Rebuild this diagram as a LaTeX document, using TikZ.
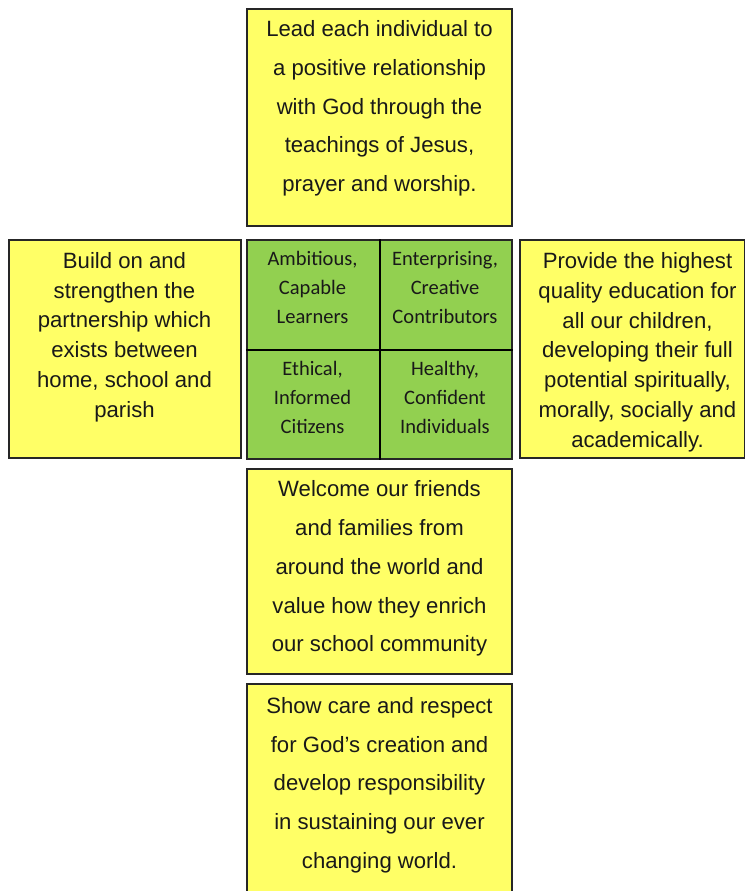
\documentclass[tikz,border=0pt]{standalone}
\usepackage{fontspec}
\setmainfont{Liberation Sans}
\newfontfamily\carlito{Carlito}
\definecolor{AimYellow}{HTML}{FFFF66}
\definecolor{ValueGreen}{HTML}{92D050}

\begin{document}
\begin{tikzpicture}[x=0.75pt, y=-0.75pt,
  aim/.style={rectangle, draw=black!85, fill=AimYellow, line width=1.1pt, inner sep=0pt},
  val/.style={rectangle, draw=black!85, fill=ValueGreen, line width=1.1pt, inner sep=0pt},
  txt/.style={align=center, inner sep=0pt, anchor=base, text=black!90, font=\fontsize{16.6pt}{29.06pt}\selectfont},
  tight/.style={txt, font=\fontsize{16.6pt}{22.3pt}\selectfont},
  vtxt/.style={txt, font=\carlito\fontsize{15.4pt}{21.75pt}\selectfont}]
  \clip (0,0) rectangle (745,891);
  \node[aim, minimum width=198.75pt, minimum height=162.75pt] (god)     at (379.5,117.5) {};
  \node[aim, minimum width=174pt,    minimum height=163.5pt]  (parish)  at (125,349)     {};
  \node[val, minimum width=198.75pt, minimum height=164.25pt] (values)  at (379.5,349.5) {};
  \node[aim, minimum width=168.4pt,  minimum height=163.5pt]  (quality) at (632.25,349)  {};
  \node[aim, minimum width=198.75pt, minimum height=153.75pt] (welcome) at (379.5,571.5) {};
  \node[aim, minimum width=198.75pt, minimum height=165.75pt] (care)    at (379.5,794.5) {};
  \draw[black, line width=1.5pt] (values.north) -- (values.south);
  \draw[black, line width=1.5pt] (values.west) -- (values.east);
  \node[txt] (godtxt) at (379.5,191.5)
    {Lead each individual to\\a positive relationship\\with God through the\\teachings of Jesus,\\prayer and worship.};
  \node[tight] (parishtxt) at (124.5,417)
    {Build on and\\strengthen the\\partnership which\\exists between\\home, school and\\parish};
  \node[tight] (qualitytxt) at (637.5,447)
    {Provide the highest\\quality education for\\all our children,\\developing their full\\potential spiritually,\\morally, socially and\\academically.};
  \node[txt] (welcometxt) at (379.5,651.8)
    {Welcome our friends\\and families from\\around the world and\\value how they enrich\\our school community};
  \node[txt] (caretxt) at (379.5,868.3)
    {Show care and respect\\for God’s creation and\\develop responsibility\\in sustaining our ever\\changing world.};
  \node[vtxt] (ambitious)    at (312.5,323.5) {Ambitious,\\Capable\\Learners};
  \node[vtxt] (enterprising) at (445,323.5)   {Enterprising,\\Creative\\Contributors};
  \node[vtxt] (ethical)      at (312.5,433)   {Ethical,\\Informed\\Citizens};
  \node[vtxt] (healthy)      at (445,433)     {Healthy,\\Confident\\Individuals};
\end{tikzpicture}
\end{document}
